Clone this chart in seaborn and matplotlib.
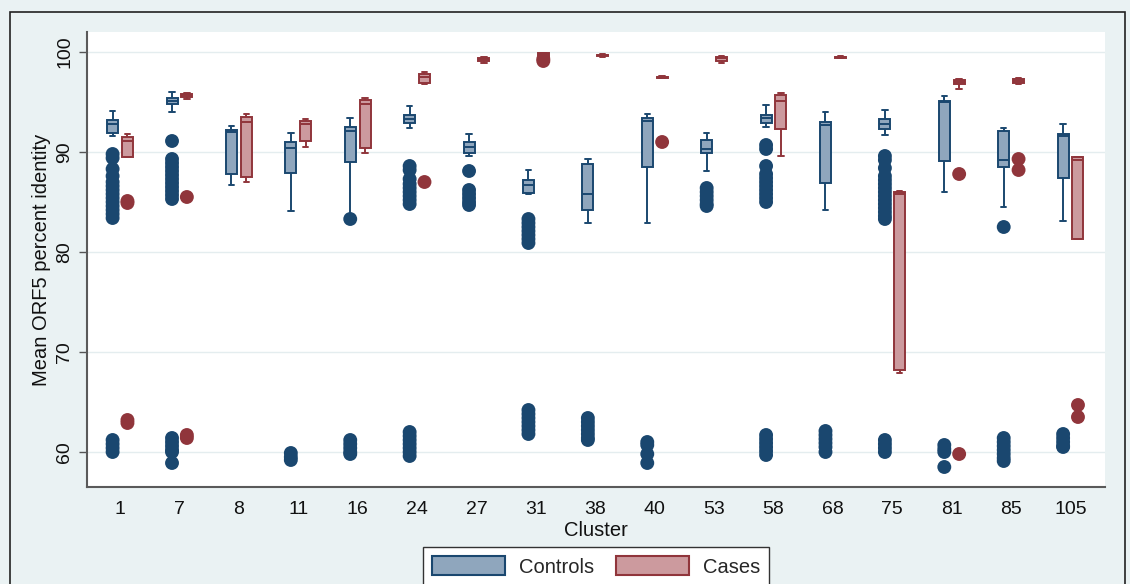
import numpy as np
import pandas as pd
import matplotlib
matplotlib.use("Agg")
import matplotlib.pyplot as plt
import seaborn as sns
from matplotlib.patches import Patch, Rectangle

# ---------------- data ----------------
clusters = ["1", "7", "8", "11", "16", "24", "27", "31", "38", "40",
            "53", "58", "68", "75", "81", "85", "105"]
groups = ["Controls", "Cases"]

ctrl_whislo = [91.6, 94.0, 86.7, 84.1, 83.6, 92.4, 89.6, 85.8, 82.9, 82.9, 88.1, 92.5, 84.2, 91.7, 86.0, 84.5, 83.1]
ctrl_q1     = [91.9, 94.8, 87.8, 87.9, 89.0, 92.9, 89.9, 85.9, 84.2, 88.5, 89.9, 92.9, 86.9, 92.3, 89.1, 88.5, 87.4]
ctrl_med    = [92.8, 95.1, 92.0, 90.4, 92.1, 93.3, 90.5, 86.7, 85.8, 93.1, 90.3, 93.4, 92.7, 92.8, 95.0, 89.2, 91.6]
ctrl_q3     = [93.2, 95.4, 92.2, 91.0, 92.5, 93.7, 91.0, 87.2, 88.8, 93.4, 91.2, 93.7, 93.0, 93.3, 95.1, 92.1, 91.8]
ctrl_whishi = [94.1, 96.0, 92.6, 91.9, 93.4, 94.6, 91.8, 88.2, 89.3, 93.8, 91.9, 94.7, 94.0, 94.2, 95.6, 92.4, 92.8]

case_whislo = [89.5, 95.3, 87.0, 90.5, 89.9, 96.8, 98.9, 99.4, 99.55, 97.4, 98.9, 89.6, 99.4, 67.9, 96.3, 96.8, 81.3]
case_q1     = [89.5, 95.5, 87.5, 91.1, 90.4, 96.9, 99.15, 99.55, 99.6, 97.45, 99.1, 92.3, 99.45, 68.2, 96.8, 96.9, 81.3]
case_med    = [91.1, 95.7, 93.0, 92.8, 94.8, 97.5, 99.35, 99.8, 99.7, 97.5, 99.4, 95.1, 99.5, 85.8, 97.0, 97.1, 89.2]
case_q3     = [91.5, 95.8, 93.5, 93.1, 95.2, 97.8, 99.45, 99.9, 99.75, 97.55, 99.5, 95.7, 99.55, 86.0, 97.2, 97.3, 89.5]
case_whishi = [91.8, 95.9, 93.8, 93.3, 95.4, 98.0, 99.55, 99.95, 99.8, 97.6, 99.6, 95.9, 99.6, 86.1, 97.3, 97.4, 89.5]

ctrl_outliers = [
    [89.8, 89.4, 88.3, 87.6, 87.0, 86.6, 86.2, 85.8, 85.4, 85.0, 84.6, 84.2, 83.8, 83.4, 61.2, 60.8, 60.4, 60.0],
    [91.1, 89.3, 88.9, 88.5, 88.1, 87.7, 87.3, 86.9, 86.5, 86.1, 85.7, 85.3, 61.4, 61.0, 60.6, 60.2, 60.0, 58.9],
    [],
    [59.9, 59.5, 59.2],
    [83.3, 61.2, 60.8, 60.4, 60.0, 59.8],
    [88.6, 88.2, 87.3, 86.8, 86.4, 86.0, 85.6, 85.2, 84.8, 62.0, 61.6, 61.2, 60.8, 60.4, 60.0, 59.6],
    [88.1, 86.2, 85.8, 85.4, 85.0, 84.7],
    [83.3, 82.9, 82.5, 82.1, 81.7, 81.3, 80.9, 64.2, 63.8, 63.4, 63.0, 62.6, 62.2, 61.8],
    [63.4, 63.0, 62.6, 62.2, 61.8, 61.4, 61.2],
    [61.0, 60.7, 59.8, 58.9],
    [86.4, 86.0, 85.6, 85.2, 84.8, 84.6],
    [90.7, 90.3, 88.6, 87.8, 87.4, 87.0, 86.6, 86.2, 85.8, 85.4, 85.0, 61.7, 61.3, 60.9, 60.5, 60.1, 59.7],
    [62.1, 61.7, 61.3, 60.9, 60.5, 60.0],
    [89.6, 89.2, 88.4, 87.6, 87.2, 86.8, 86.4, 86.0, 85.6, 85.2, 84.8, 84.4, 84.0, 83.6, 83.3, 61.2, 60.8, 60.4, 60.0],
    [60.7, 60.3, 60.0, 58.5],
    [82.5, 61.4, 61.0, 60.6, 60.2, 59.8, 59.4, 59.1],
    [61.8, 61.4, 61.0, 60.6, 60.5],
]
case_outliers = [
    [85.1, 84.9, 63.2, 62.9],
    [85.5, 61.7, 61.4],
    [], [], [],
    [87.0],
    [],
    [99.1, 99.3],
    [],
    [91.0],
    [], [], [], [],
    [87.8, 59.8],
    [89.3, 88.2],
    [64.7, 63.5],
]

# ---------------- styling ----------------
NAVY = "#1a476f"
MAROON = "#90353b"
CTRL_FILL = "#8fa6bd"
CASE_FILL = "#cc9a9e"
BG = "#eaf2f3"
FS = 14.5

sns.set_theme(style="white")
plt.rcParams["font.family"] = ["Liberation Sans", "DejaVu Sans"]

# long table of five-number summaries (seaborn computes the boxes from them)
rows = []
summ = {
    "Controls": (ctrl_whislo, ctrl_q1, ctrl_med, ctrl_q3, ctrl_whishi),
    "Cases": (case_whislo, case_q1, case_med, case_q3, case_whishi),
}
for grp, arrs in summ.items():
    for i, c in enumerate(clusters):
        for arr in arrs:
            rows.append({"Cluster": c, "Group": grp, "value": arr[i]})
box_df = pd.DataFrame(rows)

out_rows = []
for grp, outs, off in (("Controls", ctrl_outliers, -0.125), ("Cases", case_outliers, 0.125)):
    for i, vals in enumerate(outs):
        for v in vals:
            out_rows.append({"pos": i + off, "value": v, "Group": grp})
out_df = pd.DataFrame(out_rows)

fig, ax = plt.subplots(figsize=(11.3, 5.84), dpi=100)
fig.subplots_adjust(left=87 / 1130, right=1105 / 1130, bottom=1 - 487 / 584, top=1 - 32 / 584)
fig.patch.set_facecolor(BG)
ax.set_facecolor("white")

fills = {"Controls": CTRL_FILL, "Cases": CASE_FILL}
for grp, line in (("Controls", NAVY), ("Cases", MAROON)):
    sns.boxplot(data=box_df[box_df["Group"] == grp], x="Cluster", y="value",
                hue="Group", order=clusters, hue_order=groups, palette=fills,
                dodge=True, width=0.5, gap=0.26, whis=(0, 100), showfliers=False,
                linecolor=line, linewidth=1.4, saturation=1, legend=False, ax=ax)

sns.scatterplot(data=out_df, x="pos", y="value", hue="Group", hue_order=groups,
                palette={"Controls": NAVY, "Cases": MAROON}, s=100, linewidth=0,
                legend=False, ax=ax, zorder=3)

ax.set_xlim(-0.556, 16.58)
ax.set_ylim(56.5, 102)
ax.set_yticks([60, 70, 80, 90, 100])
ax.yaxis.grid(True, color="#e4edef", lw=1.0)
ax.xaxis.grid(False)
ax.set_axisbelow(True)

ax.tick_params(axis="y", left=True, length=6, width=1, color="#555555",
               labelsize=FS - 0.5, pad=4, labelrotation=90, labelcolor="#111111")
for lbl in ax.get_yticklabels():
    lbl.set_va("center")
ax.tick_params(axis="x", bottom=False, length=0, labelsize=FS - 0.5, pad=10, labelcolor="#111111")

for s in ("top", "right"):
    ax.spines[s].set_visible(False)
for s in ("left", "bottom"):
    ax.spines[s].set_color("#5a5a5a")
    ax.spines[s].set_linewidth(1.5)

ax.set_xlabel("Cluster", fontsize=FS, labelpad=2, color="#111111")
ax.set_ylabel("Mean ORF5 percent identity", fontsize=FS, labelpad=4, color="#111111")

# outer border of the graph region
fig.add_artist(Rectangle((10 / 1130, -0.1), 1115 / 1130, (1 - 12 / 584) + 0.1,
                         transform=fig.transFigure, fill=False, edgecolor="#222222",
                         lw=1.2, clip_on=False))

handles = [Patch(facecolor=CTRL_FILL, edgecolor=NAVY, lw=1.5, label="Controls"),
           Patch(facecolor=CASE_FILL, edgecolor=MAROON, lw=1.5, label="Cases")]
leg = fig.legend(handles=handles, loc="upper center",
                 bbox_to_anchor=(596 / 1130, 1 - 547 / 584), ncol=2, frameon=True,
                 fontsize=FS, handlelength=3.6, handleheight=1.1, handletextpad=0.7,
                 columnspacing=1.1, borderpad=0.45, borderaxespad=0.0,
                 fancybox=False, framealpha=1)
leg.get_frame().set_edgecolor("#333333")
leg.get_frame().set_linewidth(1.0)
leg.get_frame().set_facecolor("white")

fig.savefig("out.png", dpi=100, facecolor=fig.get_facecolor())
